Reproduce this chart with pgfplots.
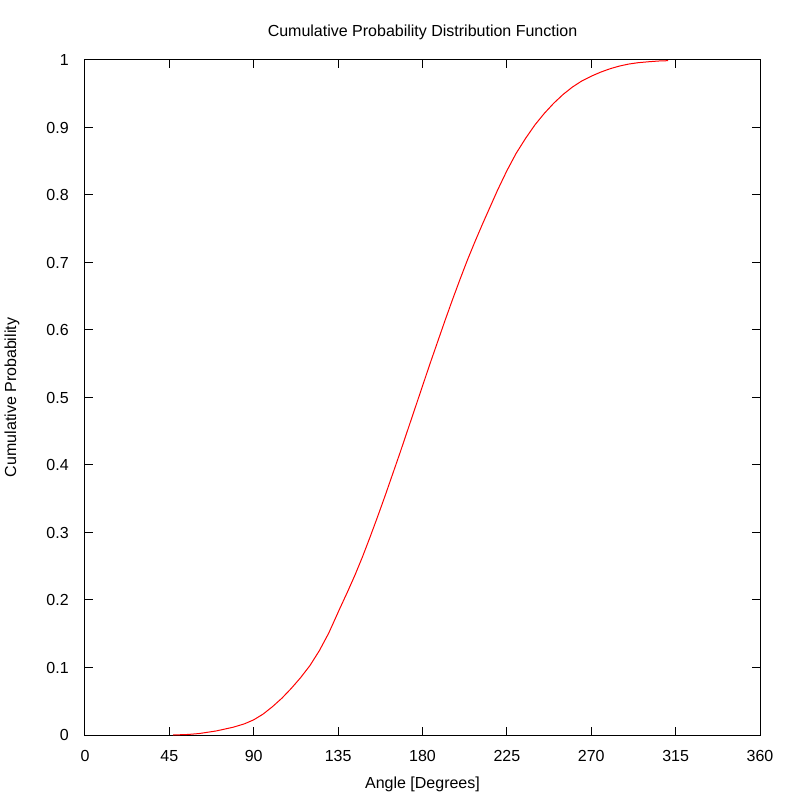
\documentclass[border=0pt]{standalone}
\usepackage{pgfplots}
\pgfplotsset{compat=1.18}
\usepackage{fontspec}
\setmainfont{Liberation Sans}
\begin{document}
\fontsize{12}{14}\selectfont
\begin{tikzpicture}
\path[use as bounding box] (-63.75pt,-48.75pt) rectangle (536.25pt,551.25pt);
\begin{axis}[
  scale only axis,
  width=506.25pt, height=506.25pt,
  at={(0,0)}, anchor=south west,
  xmin=0, xmax=360, ymin=0, ymax=1,
  xtick={0,45,90,135,180,225,270,315,360},
  ytick={0,0.1,0.2,0.3,0.4,0.5,0.6,0.7,0.8,0.9,1},
  yticklabels={0,0.1,0.2,0.3,0.4,0.5,0.6,0.7,0.8,0.9,1},
  /pgf/number format/assume math mode=true,
  tick label style={font=\fontsize{12}{14}\selectfont},
  label style={font=\fontsize{12}{14}\selectfont},
  title style={font=\fontsize{12}{14}\selectfont},
  tick align=inside,
  major tick length=6pt,
  xtick pos=both, ytick pos=both,
  axis line style={line width=0.75pt, black},
  every tick/.style={black, line width=0.75pt},
  xticklabel style={anchor=center, yshift=-15.5pt},
  yticklabel style={anchor=east, xshift=-8pt},
  title={Cumulative Probability Distribution Function},
  title style={at={(axis description cs:0.5,1.0296)}, anchor=center},
  xlabel={Angle [Degrees]},
  xlabel style={at={(axis description cs:0.5,-0.0725)}, anchor=center},
  ylabel={Cumulative Probability},
  ylabel style={at={(axis description cs:-0.1081,0.5)}, anchor=center, rotate=0},
  clip=false,
]
\addplot[red, line width=0.75pt] coordinates {
(47,0) (55,0.0008) (61,0.0022) (70,0.006) (79,0.0115) (85,0.0165) (90,0.0225)
(95,0.031) (100,0.042) (105,0.0545) (110,0.069) (115,0.085) (120,0.103)
(125,0.125) (130,0.151) (136,0.188) (140,0.212) (144,0.237) (148,0.264)
(152,0.293) (156,0.323) (160,0.354) (164,0.386) (168,0.418) (172,0.451)
(176,0.484) (180,0.517) (184,0.550) (188,0.582) (192,0.614) (196,0.645)
(200,0.675) (204,0.704) (208,0.731) (212,0.757) (216,0.782) (220,0.807)
(225,0.836) (230,0.862) (235,0.884) (240,0.904) (245,0.921) (250,0.936)
(255,0.949) (260,0.960) (265,0.969) (270,0.976) (275,0.982) (280,0.987)
(285,0.991) (290,0.994) (295,0.996) (301,0.9975) (306,0.9985) (311,0.999)
};
\end{axis}
\end{tikzpicture}
\end{document}
